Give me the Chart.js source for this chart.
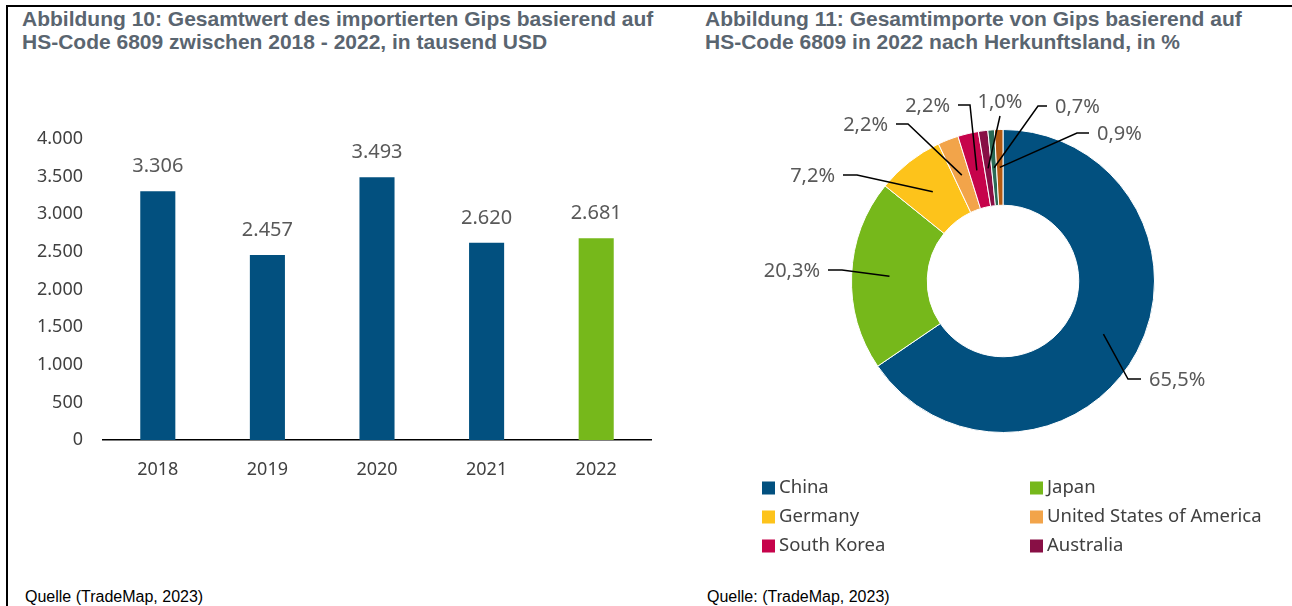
<!DOCTYPE html>
<html lang="de">
<head>
<meta charset="utf-8">
<title>Gips Importe HS-Code 6809</title>
<script src="https://cdn.jsdelivr.net/npm/chart.js@4.4.0/dist/chart.umd.min.js"></script>
<style>
  html, body { margin: 0; padding: 0; background: #fff; }
  body { width: 1292px; height: 606px; position: relative; overflow: hidden; font-family: "Liberation Sans", Arial, sans-serif; }
  .frame-top { position: absolute; left: 6px; top: 5px; width: 1286px; height: 2px; background: #000; }
  .frame-left { position: absolute; left: 6px; top: 5px; width: 2px; height: 601px; background: #000; }
  .title { position: absolute; top: 7px; font-weight: bold; font-size: 21px; line-height: 23px; color: #5a6570; white-space: nowrap; }
  .source { position: absolute; top: 588px; font-size: 16px; color: #000; white-space: nowrap; }
  canvas { position: absolute; }
</style>
</head>
<body>
<div class="frame-top"></div>
<div class="frame-left"></div>

<div class="title" style="left:22px">Abbildung 10: Gesamtwert des importierten Gips basierend auf<br>HS-Code 6809 zwischen 2018 - 2022, in tausend USD</div>
<div class="title" style="left:705px">Abbildung 11: Gesamtimporte von Gips basierend auf<br>HS-Code 6809 in 2022 nach Herkunftsland, in %</div>

<canvas id="barChart" width="690" height="440" style="left:0;top:60px"></canvas>
<canvas id="donutChart" width="592" height="510" style="left:700px;top:60px"></canvas>

<div class="source" style="left:25px">Quelle (TradeMap, 2023)</div>
<div class="source" style="left:707px">Quelle: (TradeMap, 2023)</div>

<script>
// --- data ---
const years = ['2018', '2019', '2020', '2021', '2022'];
const importValues = [3306, 2457, 3493, 2620, 2681]; // tausend USD
const yTicks = [0, 500, 1000, 1500, 2000, 2500, 3000, 3500, 4000];

const countries = ['China', 'Japan', 'Germany', 'United States of America', 'South Korea', 'Australia'];
const shares = [65.5, 20.3, 7.2, 2.2, 2.2, 1.0, 0.7, 0.9]; // last two: not in legend

// --- styles ---
const blue = '#02507f';
const green = '#76b81b';
const barColors = [blue, blue, blue, blue, green];
const sliceColors = [blue, green, '#fdc31b', '#f2a44a', '#c6034b', '#880f45', '#2a6a55', '#b35a12'];
// leader lines: elbow offset from centre [dx, dy], horizontal length, text side
const leaderLayout = [
  [125, 98, 13, 'left'],
  [-161, -11, 14, 'right'],
  [-146, -106, 14, 'right'],
  [-95, -157, 12, 'right'],
  [-33, -176, 12, 'right'],
  [-3, -165, 0, 'center'],
  [35, -175, 9, 'left'],
  [74, -148, 12, 'left']
];

const FONT = "'Noto Sans', 'Open Sans', sans-serif";
Chart.defaults.font.family = FONT;
Chart.defaults.animation = false;

function thousands(v) {
  return String(v).replace(/\B(?=(\d{3})+(?!\d))/g, '.');
}
function pct(v) {
  return v.toFixed(1).replace('.', ',') + '%';
}

// value labels above bars
const barValueLabels = {
  id: 'barValueLabels',
  afterDatasetsDraw(chart) {
    const ctx = chart.ctx;
    const meta = chart.getDatasetMeta(0);
    ctx.save();
    ctx.font = '20px ' + FONT;
    ctx.fillStyle = '#595959';
    ctx.textAlign = 'center';
    ctx.textBaseline = 'middle';
    meta.data.forEach((bar, i) => {
      ctx.fillText(thousands(importValues[i]), bar.x, bar.y - 25);
    });
    ctx.restore();
  }
};

new Chart(document.getElementById('barChart'), {
  type: 'bar',
  data: {
    labels: years,
    datasets: [{
      data: importValues,
      backgroundColor: barColors,
      categoryPercentage: 1,
      barPercentage: 0.32
    }]
  },
  options: {
    responsive: false,
    layout: { padding: { left: 33, right: 39, top: 79, bottom: 20 } },
    plugins: { legend: { display: false }, tooltip: { enabled: false } },
    scales: {
      x: {
        grid: { display: false, drawTicks: false },
        border: { display: true, color: '#000', width: 1.5 },
        ticks: { color: '#404040', font: { size: 18 }, padding: 19 },
        afterFit(scale) { scale.height = 40; }
      },
      y: {
        min: 0,
        max: 4000,
        grid: { display: false, drawTicks: false },
        border: { display: false },
        afterBuildTicks(scale) { scale.ticks = yTicks.map(v => ({ value: v })); },
        ticks: { color: '#404040', font: { size: 18 }, padding: 20, callback: v => thousands(v) },
        afterFit(scale) { scale.width = 70; }
      }
    }
  },
  plugins: [barValueLabels]
});

// leader-line labels for the doughnut
const donutLabels = {
  id: 'donutLabels',
  afterDatasetsDraw(chart) {
    const ctx = chart.ctx;
    const meta = chart.getDatasetMeta(0);
    const cx = meta.data[0].x, cy = meta.data[0].y;
    ctx.save();
    ctx.strokeStyle = '#000';
    ctx.lineWidth = 1.5;
    ctx.font = '20px ' + FONT;
    ctx.fillStyle = '#595959';
    meta.data.forEach((arc, i) => {
      const [dx, dy, hLen, side] = leaderLayout[i];
      const a = arc.tooltipPosition();
      const ex = cx + dx, ey = cy + dy;
      const lx = side === 'left' ? ex + hLen : ex - hLen;
      ctx.beginPath();
      ctx.moveTo(a.x, a.y);
      ctx.lineTo(ex, ey);
      ctx.lineTo(lx, ey);
      ctx.stroke();
      ctx.textBaseline = 'middle';
      const txt = pct(shares[i]);
      if (side === 'center') {
        ctx.textAlign = 'center';
        ctx.fillText(txt, ex, ey - 14);
      } else if (side === 'left') {
        ctx.textAlign = 'left';
        ctx.fillText(txt, lx + 8, ey + 1);
      } else {
        ctx.textAlign = 'right';
        ctx.fillText(txt, lx - 8, ey + 1);
      }
    });
    ctx.restore();
  }
};

// two-column legend below the doughnut
const gridLegend = {
  id: 'gridLegend',
  afterDraw(chart) {
    const ctx = chart.ctx;
    const cols = [62, 330];
    const rows = [428, 457, 486];
    ctx.save();
    ctx.font = '18.5px ' + FONT;
    ctx.textBaseline = 'middle';
    ctx.textAlign = 'left';
    countries.forEach((name, i) => {
      const x = cols[i % 2], y = rows[Math.floor(i / 2)];
      ctx.fillStyle = sliceColors[i];
      ctx.fillRect(x, y - 6.5, 13, 13);
      ctx.fillStyle = '#404040';
      ctx.fillText(name, x + 17, y);
    });
    ctx.restore();
  }
};

new Chart(document.getElementById('donutChart'), {
  type: 'doughnut',
  data: {
    labels: countries,
    datasets: [{
      data: shares,
      backgroundColor: sliceColors,
      borderColor: '#fff',
      borderWidth: 1
    }]
  },
  options: {
    responsive: false,
    cutout: '50%',
    layout: { padding: { left: 151, right: 137, top: 69, bottom: 137 } },
    plugins: { legend: { display: false }, tooltip: { enabled: false } }
  },
  plugins: [donutLabels, gridLegend]
});
</script>
</body>
</html>
